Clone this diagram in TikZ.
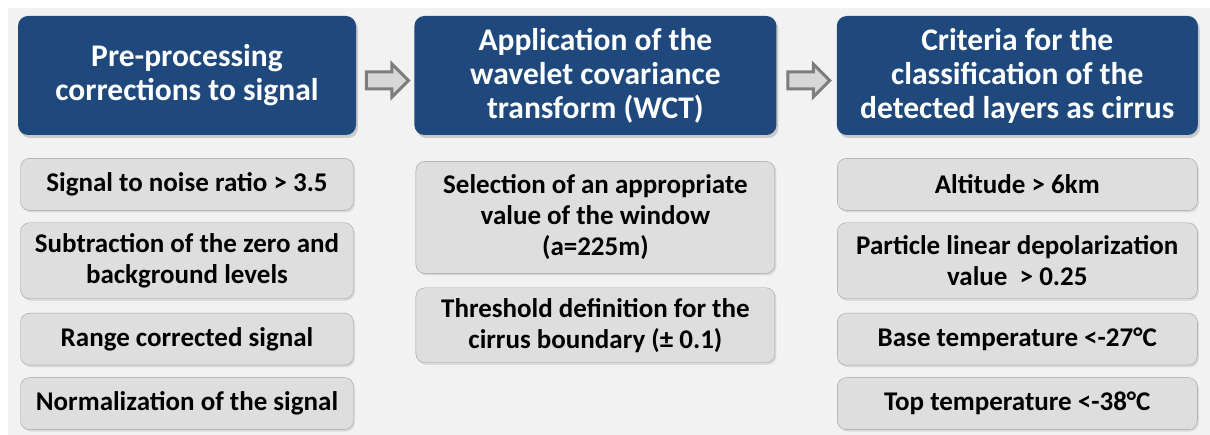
\documentclass[tikz,border=0pt]{standalone}
\usepackage{fontspec}
\setmainfont{Carlito}
\usepackage{tikz}
\usetikzlibrary{positioning,calc,shapes.arrows,shadows}

\definecolor{headblue}{RGB}{31,73,125}
\definecolor{itemgray}{RGB}{222,222,222}
\definecolor{itemline}{RGB}{160,160,160}
\definecolor{arrowgray}{RGB}{125,125,125}
\definecolor{arrowfill}{RGB}{215,215,215}
\definecolor{backgray}{RGB}{242,242,242}

\begin{document}
\begin{tikzpicture}[
        x=1pt, y=1pt,
        head/.style={rounded corners=10pt, fill=headblue, text=white,
            font=\fontsize{31.5}{34}\selectfont\bfseries, align=center,
            minimum height=119pt, inner sep=0pt,
            drop shadow={opacity=0.35, shadow xshift=2pt, shadow yshift=-3pt}},
        item/.style={rounded corners=9pt, fill=itemgray, draw=itemline,
            font=\fontsize{27}{31}\selectfont\bfseries, align=center,
            inner sep=0pt,
            drop shadow={opacity=0.2, shadow xshift=1.5pt, shadow yshift=-2pt}},
        flow/.style={single arrow, draw=arrowgray, fill=arrowfill,
            line width=3pt, minimum height=42pt, inner xsep=0pt,
            inner ysep=7pt, single arrow head extend=8pt},
    ]
    % background
    \useasboundingbox (0,0) rectangle (1210,-435);
    \fill[backgray] (8,-8) rectangle (1210,-435);

    % headers
    \node[head, minimum width=338pt] (pre) at (187,-75.5)
        {Pre-processing\\corrections to signal};
    \node[head, minimum width=362pt, right=58pt of pre] (wct)
        {Application of the\\wavelet covariance\\transform (WCT)};
    \node[head, minimum width=361pt, right=60pt of wct] (crit)
        {Criteria for the\\classification of the\\detected layers as cirrus};

    % arrows between headers
    \node[flow] (ar1) at ([xshift=-2pt,yshift=-5pt]$(pre.east)!0.5!(wct.west)$) {};
    \node[flow] (ar2) at ([xshift=-2pt,yshift=-5pt]$(wct.east)!0.5!(crit.west)$) {};

    % pre-processing steps
    \node[item, minimum width=333pt, minimum height=52pt,
          below=23pt of pre] (snr) {Signal to noise ratio > 3.5};
    \node[item, minimum width=333pt, minimum height=76pt,
          below=12pt of snr] (sub) {Subtraction of the zero and\\background levels};
    \node[item, minimum width=333pt, minimum height=52pt,
          below=14pt of sub] (rcs) {Range corrected signal};
    \node[item, minimum width=333pt, minimum height=52pt,
          below=12pt of rcs] (norm) {Normalization of the signal};

    % wct steps
    \node[item, minimum width=359pt, minimum height=112pt,
          below=26pt of wct] (win) {Selection of an appropriate\\value of the window\\(a=225m)};
    \node[item, minimum width=359pt, minimum height=75pt,
          below=14pt of win] (thr) {Threshold definition for the\\cirrus boundary (± 0.1)};

    % criteria
    \node[item, minimum width=360pt, minimum height=52pt,
          below=23pt of crit] (alt) {Altitude > 6km};
    \node[item, minimum width=360pt, minimum height=76pt,
          below=12pt of alt] (dep) {Particle linear depolarization\\value\ \ > 0.25};
    \node[item, minimum width=360pt, minimum height=52pt,
          below=14pt of dep] (base) {Base temperature <-27°C};
    \node[item, minimum width=360pt, minimum height=52pt,
          below=12pt of base] (top) {Top temperature <-38°C};
\end{tikzpicture}
\end{document}
